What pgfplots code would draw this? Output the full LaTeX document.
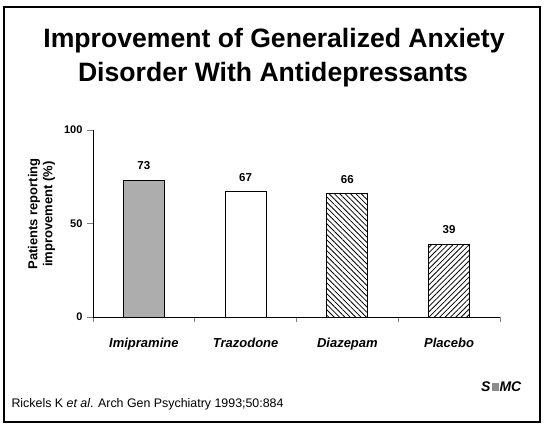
\documentclass[border=0pt]{standalone}
\usepackage{fontspec}
\setmainfont{Liberation Sans}
\usepackage{pgfplots}
\pgfplotsset{compat=1.18}
\usetikzlibrary{patterns.meta}
\begin{document}
\begin{tikzpicture}[x=1pt,y=1pt]
\path[fill=white] (0,0) rectangle (546,429);
\draw[line width=1.8pt] (4,422) rectangle (540,7);
\node[anchor=base,font=\fontsize{26.6}{30}\selectfont\bfseries] at (274,381) {Improvement of Generalized Anxiety};
\node[anchor=base,font=\fontsize{26.6}{30}\selectfont\bfseries] at (273,347) {Disorder With Antidepressants};
\node[rotate=90,align=center,font=\fontsize{13}{15}\selectfont\bfseries] at (41.5,215) {Patients reporting\\improvement (\%)};
\node[anchor=base west,font=\fontsize{12.4}{14}\selectfont] at (8,22) {Rickels K \textit{et al}. Arch Gen Psychiatry 1993;50:884};
\node[anchor=base west,font=\fontsize{14}{16}\selectfont\bfseries\itshape,inner sep=0pt] at (481,38) {S\kern1pt\textcolor{black!45}{\rule{7pt}{8pt}}\kern1pt MC};
\begin{axis}[
  at={(93pt,112pt)}, anchor=south west,
  width=407pt, height=187pt, scale only axis,
  xmin=-0.5, xmax=3.5, ymin=0, ymax=100,
  axis lines*=left,
  axis line style={line width=1pt},
  ybar, bar width=41pt, bar shift=0pt,
  xtick={0,1,2,3},
  xticklabels={Imipramine,Trazodone,Diazepam,Placebo},
  minor xtick={-0.5,0.5,1.5,2.5,3.5},
  major x tick style={draw=none},
  minor x tick style={line width=0.8pt},
  minor tick length=5pt,
  ytick={0,50,100},
  major tick length=6pt,
  tick align=outside,
  y tick style={line width=0.8pt},
  /pgf/number format/assume math mode=true,
  yticklabel style={font=\fontsize{11}{13}\selectfont\bfseries, xshift=-1pt},
  xticklabel style={font=\fontsize{13}{15}\selectfont\bfseries\itshape, anchor=base, yshift=-24pt},
  nodes near coords,
  every node near coord/.append style={font=\fontsize{11.5}{13}\selectfont\bfseries, anchor=south, inner sep=0pt, yshift=10pt, text=black},
  clip=false,
]
\addplot[draw=black, line width=0.9pt, fill=black!32] coordinates {(0,73)};
\addplot[draw=black, line width=0.9pt, fill=white] coordinates {(1,67)};
\addplot[draw=black, line width=0.9pt, pattern={Lines[angle=-45,distance=3.8pt,line width=0.8pt]}] coordinates {(2,66)};
\addplot[draw=black, line width=0.9pt, pattern={Lines[angle=45,distance=3.8pt,line width=0.8pt]}] coordinates {(3,39)};
\end{axis}
\end{tikzpicture}
\end{document}
